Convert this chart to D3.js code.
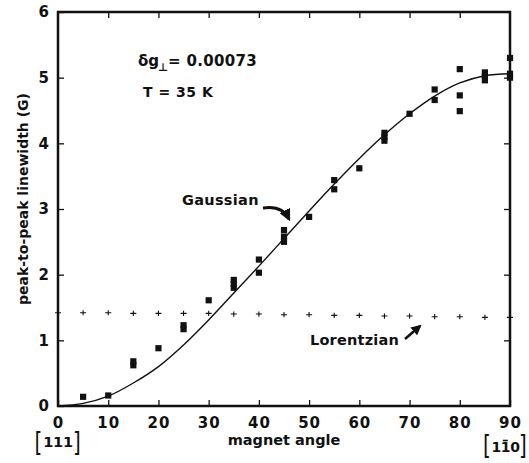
<!DOCTYPE html>
<html>
<head>
<meta charset="utf-8">
<script src="https://cdn.jsdelivr.net/npm/d3@7"></script>
<style>
  html, body { margin: 0; padding: 0; background: #fff; }
  svg { display: block; }
  text { font-family: "DejaVu Sans", "Liberation Sans", Arial, sans-serif; font-weight: bold; fill: #111; }
  text.br { font-weight: normal; }
</style>
</head>
<body>
<svg id="chart" width="529" height="463"></svg>
<script>
// ---- data ----
const xTickValues = [0, 10, 20, 30, 40, 50, 60, 70, 80, 90];
const yTickValues = [0, 1, 2, 3, 4, 5, 6];

// measured peak-to-peak linewidths (squares): angle, linewidth
const measuredAngle = [5, 10, 15, 15, 20, 25, 25, 30, 35, 35, 35, 40, 40, 45, 45, 45, 50, 55, 55, 60, 65, 65, 65, 70, 75, 75, 80, 80, 80, 85, 85, 85, 90, 90, 90];
const measuredWidth = [0.14, 0.16, 0.62, 0.68, 0.88, 1.17, 1.23, 1.61, 1.80, 1.86, 1.92, 2.03, 2.23, 2.50, 2.58, 2.68, 2.88, 3.30, 3.44, 3.62, 4.04, 4.10, 4.16, 4.45, 4.66, 4.82, 4.49, 4.73, 5.13, 4.96, 5.03, 5.08, 5.00, 5.06, 5.30];

// Gaussian fit curve
const gaussAngle = [0, 5, 10, 15, 20, 25, 30, 35, 40, 45, 50, 55, 60, 65, 70, 75, 80, 85, 90];
const gaussWidth = [0, 0.04, 0.15, 0.35, 0.60, 0.93, 1.31, 1.72, 2.13, 2.55, 2.97, 3.38, 3.77, 4.13, 4.45, 4.72, 4.92, 5.03, 5.06];

// Lorentzian prediction (plus marks)
const lorentzAngle = [0, 5, 10, 15, 20, 25, 30, 35, 40, 45, 50, 55, 60, 65, 70, 75, 80, 85, 90];
const lorentzWidth = [1.42, 1.42, 1.42, 1.41, 1.41, 1.41, 1.41, 1.40, 1.40, 1.39, 1.39, 1.38, 1.38, 1.37, 1.37, 1.36, 1.36, 1.35, 1.35];

// ---- layout ----
const svg = d3.select("#chart");
const mLeft = 58, mRight = 510, mTop = 12, mBottom = 406;

const x = d3.scaleLinear().domain([0, 90]).range([mLeft, mRight]);
const y = d3.scaleLinear().domain([0, 6]).range([mBottom, mTop]);

// axes (ticks pointing inward)
const gx = svg.append("g").attr("transform", `translate(0,${mBottom})`)
  .call(d3.axisBottom(x).tickValues(xTickValues).tickFormat(d3.format("d"))
    .tickSizeInner(-6).tickSizeOuter(0).tickPadding(11));
gx.select(".domain").remove();
gx.selectAll("text").attr("font-size", 15).attr("letter-spacing", 1).attr("dy", "0.71em")
  .attr("font-family", "DejaVu Sans").attr("font-weight", "bold").attr("fill", "#111");

const gxTop = svg.append("g").attr("transform", `translate(0,${mTop})`)
  .call(d3.axisTop(x).tickValues(xTickValues.slice(1, -1)).tickSizeInner(-6).tickSizeOuter(0).tickFormat(""));
gxTop.select(".domain").remove();

const gy = svg.append("g").attr("transform", `translate(${mLeft},0)`)
  .call(d3.axisLeft(y).tickValues(yTickValues).tickFormat(d3.format("d"))
    .tickSizeInner(-6).tickSizeOuter(0).tickPadding(9));
gy.select(".domain").remove();
gy.selectAll("text").attr("font-size", 15)
  .attr("font-family", "DejaVu Sans").attr("font-weight", "bold").attr("fill", "#111");

const gyRight = svg.append("g").attr("transform", `translate(${mRight},0)`)
  .call(d3.axisRight(y).tickValues(yTickValues.slice(1, -1)).tickSizeInner(-6).tickSizeOuter(0).tickFormat(""));
gyRight.select(".domain").remove();

svg.selectAll(".tick line").attr("stroke", "#111").attr("stroke-width", 1.3);

// frame
svg.append("rect")
  .attr("x", mLeft).attr("y", mTop)
  .attr("width", mRight - mLeft).attr("height", mBottom - mTop)
  .attr("fill", "none").attr("stroke", "#111").attr("stroke-width", 2.5);

// Gaussian curve
const line = d3.line().x(d => x(d[0])).y(d => y(d[1])).curve(d3.curveCatmullRom);
svg.append("path")
  .datum(gaussAngle.map((a, i) => [a, gaussWidth[i]]))
  .attr("d", line).attr("fill", "none").attr("stroke", "#111").attr("stroke-width", 1.4);

// Lorentzian plus marks
const plus = svg.append("g");
lorentzAngle.forEach((a, i) => {
  const px = x(a), py = y(lorentzWidth[i]);
  plus.append("path")
    .attr("d", `M${px - 3},${py}H${px + 3}M${px},${py - 2.6}V${py + 2.6}`)
    .attr("stroke", "#111").attr("stroke-width", 1.1).attr("fill", "none");
});

// measured squares
const s = 6.2;
svg.append("g").selectAll("rect")
  .data(measuredAngle.map((a, i) => [a, measuredWidth[i]]))
  .join("rect")
  .attr("x", d => x(d[0]) - s / 2).attr("y", d => y(d[1]) - s / 2)
  .attr("width", s).attr("height", s).attr("fill", "#111");

// axis titles
svg.append("text")
  .attr("transform", `translate(28,199) rotate(-90)`)
  .attr("text-anchor", "middle").attr("font-size", 14)
  .text("peak-to-peak linewidth (G)");

svg.append("text")
  .attr("x", 284).attr("y", 445).attr("text-anchor", "middle").attr("font-size", 14.5)
  .text("magnet angle");

// crystal directions
function bracket(ch, bx, by) {
  svg.append("text").attr("class", "br")
    .attr("transform", `translate(${bx},${by}) scale(1,1.3)`)
    .attr("font-size", 20).attr("text-anchor", "middle")
    .text(ch);
}
bracket("[", 38.5, 451);
svg.append("text").attr("x", 58).attr("y", 447).attr("text-anchor", "middle")
  .attr("font-size", 14.5).attr("letter-spacing", -0.3).text("111");
bracket("]", 77, 451);

bracket("[", 487, 454);
const dirR = svg.append("text").attr("x", 505.5).attr("y", 452).attr("text-anchor", "middle")
  .attr("font-size", 14).attr("letter-spacing", -0.4).text("110");
bracket("]", 523, 454);
// overbar on the middle index
const ext = dirR.node().getExtentOfChar(1);
svg.append("path")
  .attr("d", `M${ext.x + 2},${ext.y + 1.5}H${ext.x + ext.width - 2.4}`)
  .attr("stroke", "#111").attr("stroke-width", 1.6);

// annotations
const ann = svg.append("text").attr("x", 138).attr("y", 66).attr("font-size", 15);
ann.append("tspan").text("\u03b4g");
ann.append("tspan").attr("font-size", 11).attr("dy", 5).attr("dx", -1).text("\u22a5");
ann.append("tspan").attr("dy", -5).attr("letter-spacing", 0.3).text("= 0.00073");

svg.append("text").attr("x", 143).attr("y", 97).attr("font-size", 14).attr("letter-spacing", 0.5)
  .text("T = 35 K");

svg.append("text").attr("x", 182).attr("y", 205).attr("font-size", 14.5).attr("letter-spacing", 0.3)
  .text("Gaussian");
svg.append("text").attr("x", 310).attr("y", 345).attr("font-size", 14.5).attr("letter-spacing", 0.2)
  .text("Lorentzian");

// arrows
const defs = svg.append("defs");
defs.append("marker").attr("id", "ah").attr("viewBox", "0 0 10 10")
  .attr("refX", 8).attr("refY", 5).attr("markerWidth", 4).attr("markerHeight", 4)
  .attr("orient", "auto")
  .append("path").attr("d", "M0,0L10,5L0,10Z").attr("fill", "#111");

svg.append("path").attr("d", "M263,208 Q282,205 289,219")
  .attr("fill", "none").attr("stroke", "#111").attr("stroke-width", 3)
  .attr("marker-end", "url(#ah)");
svg.append("path").attr("d", "M405,339 L420,326")
  .attr("fill", "none").attr("stroke", "#111").attr("stroke-width", 2.6)
  .attr("marker-end", "url(#ah)");
</script>
</body>
</html>
